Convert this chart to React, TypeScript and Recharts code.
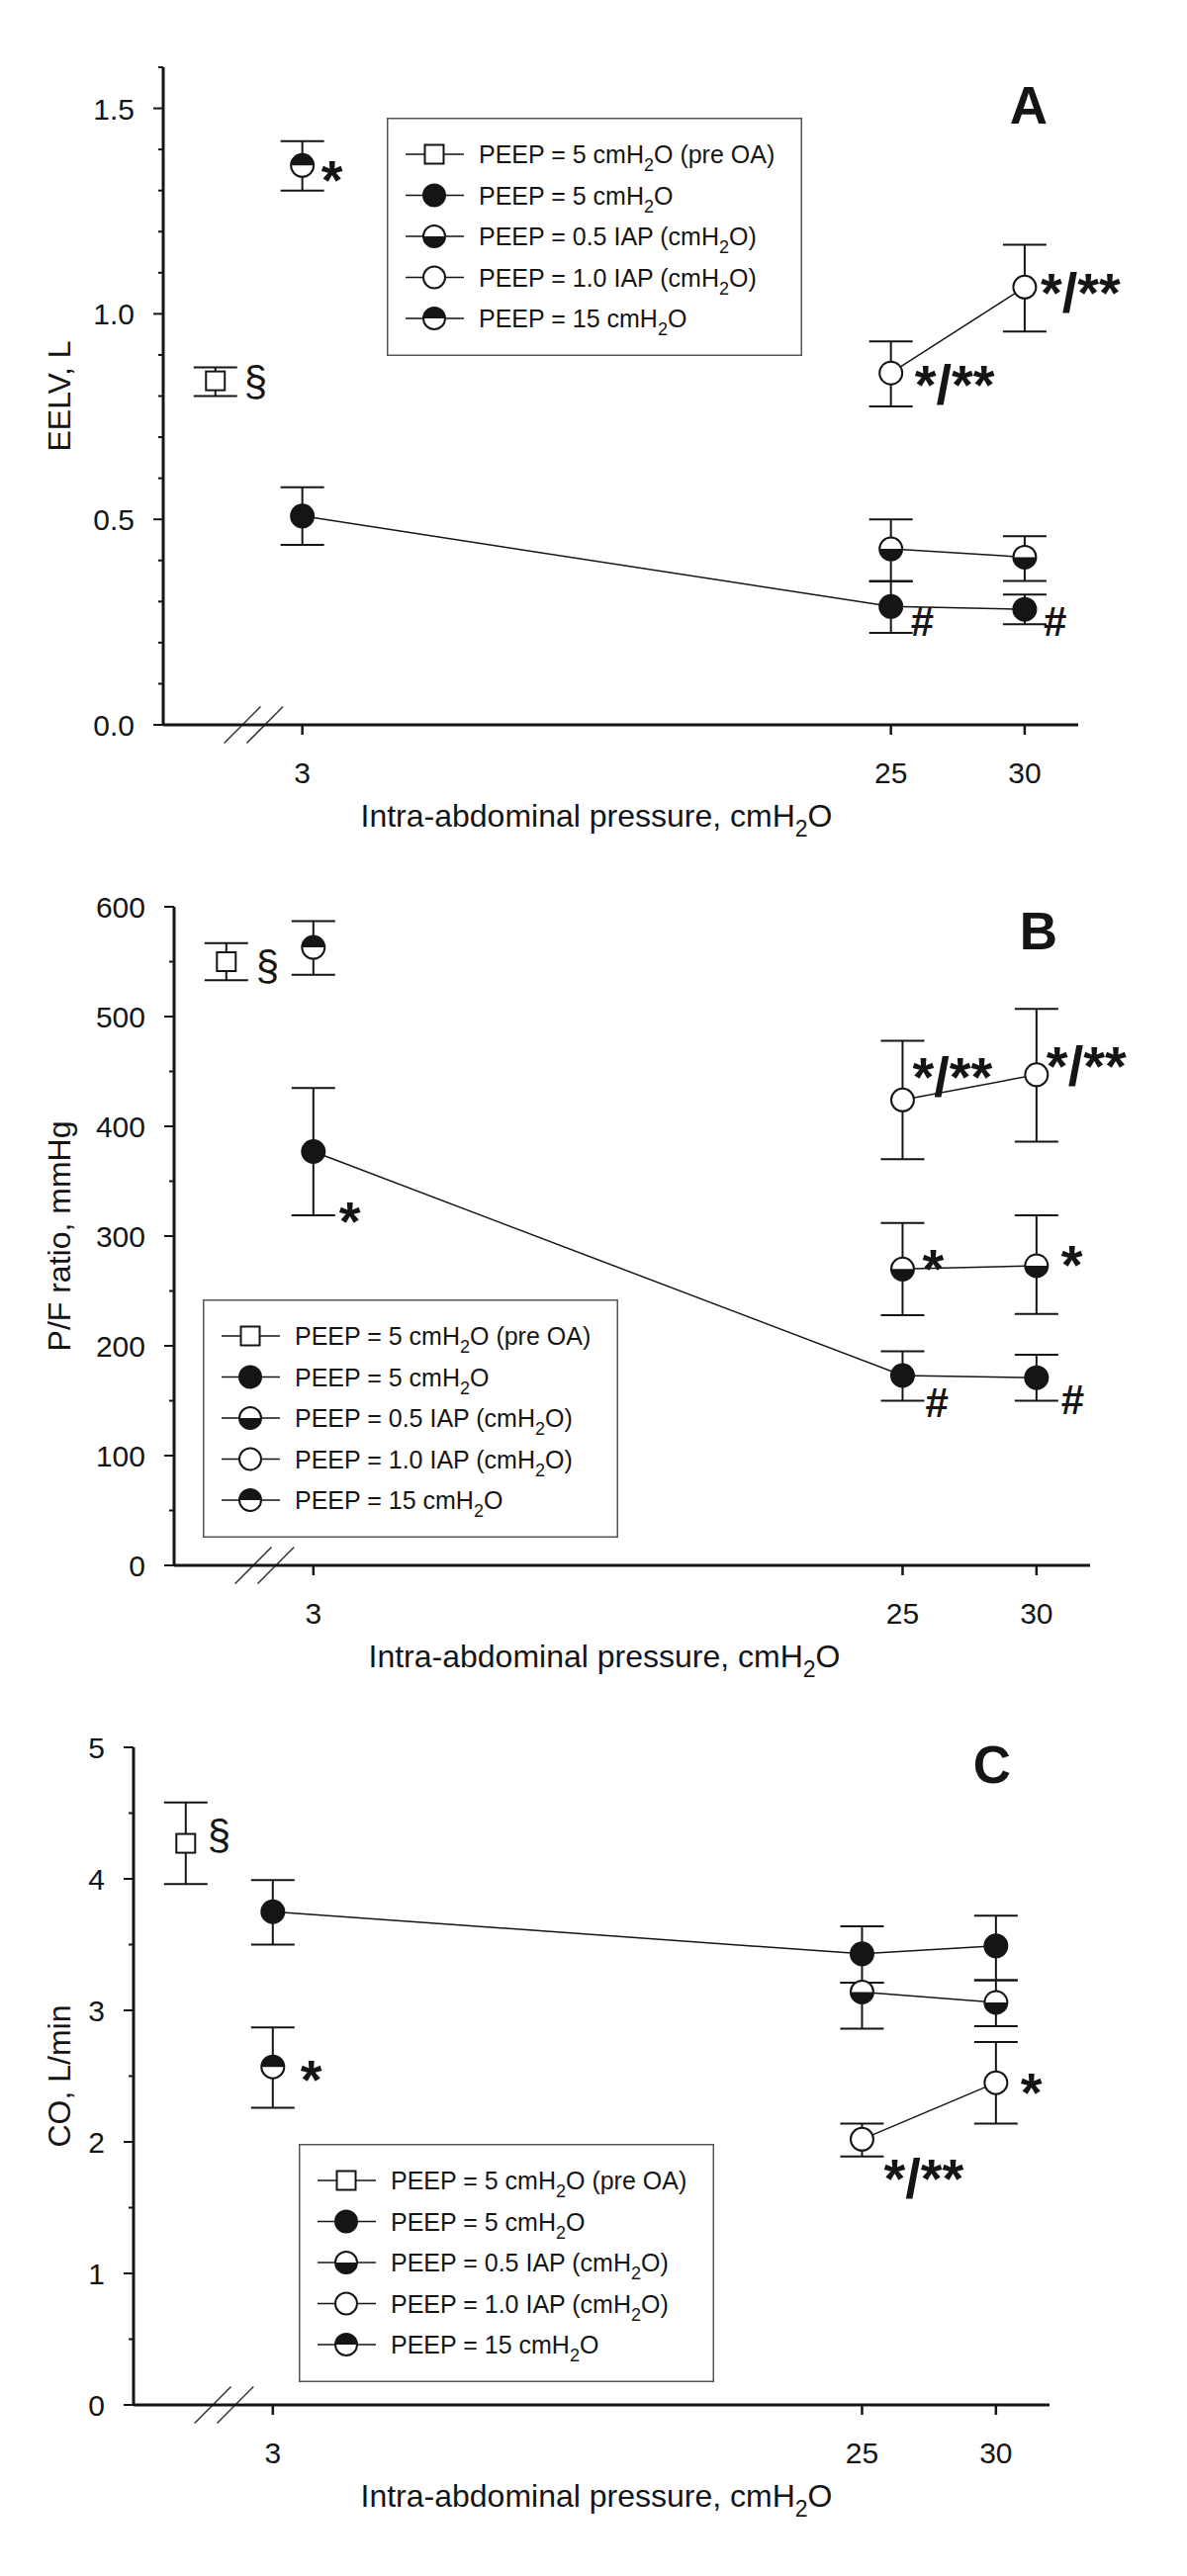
import React from 'react';
import {
  ScatterChart, Scatter, XAxis, YAxis, ErrorBar, Legend, Label, ReferenceLine,
} from 'recharts';

if (typeof document !== 'undefined') document.body.style.margin = '0';

const FONT = '"Liberation Sans", Arial, Helvetica, sans-serif';
const INK = '#151515';

/* ── x positions, cmH2O (pre-OA point sits left of the axis break) ── */
const X_PRE = [-0.25];
const X_BASE = [3];
const X_ALL = [3, 25, 30];
const X_HIGH = [25, 30];
const X_TICKS = [3, 25, 30];
const BREAKS = [0.76, 1.6];

/* ── A: EELV, L — rows are [mean, lower, upper] ── */
const eelvPre = [[0.837, 0.8, 0.87]];
const eelvPeep5 = [[0.508, 0.438, 0.578], [0.288, 0.224, 0.349], [0.281, 0.245, 0.317]];
const eelvHalf = [[0.428, 0.35, 0.5], [0.408, 0.35, 0.459]];
const eelvOpen = [[0.856, 0.775, 0.933], [1.065, 0.957, 1.168]];
const eelvPeep15 = [[1.361, 1.3, 1.42]];
const eelvTicks = [0, 0.1, 0.2, 0.3, 0.4, 0.5, 0.6, 0.7, 0.8, 0.9, 1.0, 1.1, 1.2, 1.3, 1.4, 1.5, 1.6];

/* ── B: P/F ratio, mmHg ── */
const pfPre = [[550, 533, 567]];
const pfPeep5 = [[377, 319, 435], [173, 150, 195], [171, 150, 192]];
const pfHalf = [[270, 228, 312], [273, 229, 319]];
const pfOpen = [[424, 370, 478], [447, 386, 507]];
const pfPeep15 = [[563, 538, 587]];
const pfTicks = [0, 50, 100, 150, 200, 250, 300, 350, 400, 450, 500, 550, 600];

/* ── C: CO, L/min ── */
const coPre = [[4.27, 3.96, 4.58]];
const coPeep5 = [[3.75, 3.5, 3.99], [3.43, 3.21, 3.64], [3.49, 3.23, 3.72]];
const coHalf = [[3.14, 2.86, 3.21], [3.06, 2.88, 3.23]];
const coOpen = [[2.02, 1.89, 2.14], [2.45, 2.14, 2.76]];
const coPeep15 = [[2.57, 2.26, 2.87]];
const coTicks = [0, 0.5, 1, 1.5, 2, 2.5, 3, 3.5, 4, 4.5, 5];

/* ── significance marks, same order as the rows ── */
const eelvNotes = { pre: ['§'], peep5: ['', '#', '#'], half: ['', ''], open: ['*/**', '*/**'], peep15: ['*'] };
const pfNotes = { pre: ['§'], peep5: ['*', '#', '#'], half: ['*', '*'], open: ['*/**', '*/**'], peep15: [''] };
const coNotes = { pre: ['§'], peep5: ['', '', ''], half: ['', ''], open: ['*/**', '*'], peep15: ['*'] };

const LEGEND_LABELS = [
  'PEEP = 5 cmH2O (pre OA)',
  'PEEP = 5 cmH2O',
  'PEEP = 0.5 IAP (cmH2O)',
  'PEEP = 1.0 IAP (cmH2O)',
  'PEEP = 15 cmH2O',
];

const SERIES_KEYS = ['pre', 'peep5', 'half', 'open', 'peep15'];
const SERIES_X: Record<string, number[]> = { pre: X_PRE, peep5: X_ALL, half: X_HIGH, open: X_HIGH, peep15: X_BASE };
const SERIES_KIND: Record<string, string> = { pre: 'square', peep5: 'filled', half: 'halfLow', open: 'open', peep15: 'halfHigh' };

const PANELS = [
  { id: 'A', yTitle: 'EELV, L', yDomain: [0, 1.6], yTicks: eelvTicks, major: 0.5, digits: 1,
    values: { pre: eelvPre, peep5: eelvPeep5, half: eelvHalf, open: eelvOpen, peep15: eelvPeep15 }, notes: eelvNotes },
  { id: 'B', yTitle: 'P/F ratio, mmHg', yDomain: [0, 600], yTicks: pfTicks, major: 100, digits: 0,
    values: { pre: pfPre, peep5: pfPeep5, half: pfHalf, open: pfOpen, peep15: pfPeep15 }, notes: pfNotes },
  { id: 'C', yTitle: 'CO, L/min', yDomain: [0, 5], yTicks: coTicks, major: 1, digits: 0,
    values: { pre: coPre, peep5: coPeep5, half: coHalf, open: coOpen, peep15: coPeep15 }, notes: coNotes },
];

/* ── layout (pixels) ── */
const LAYOUT = [
  { height: 850, top: 68, bottom: 57, left: 165, right: 1090, titleX: 603, letter: [1040, 125], legend: [391, 119] },
  { height: 850, top: 67, bottom: 57, left: 176, right: 1102, titleX: 611, letter: [1050, 110], legend: [205, 464] },
  { height: 905, top: 67, bottom: 113, left: 135, right: 1061, titleX: 603, letter: [1003, 103], legend: [302, 468] },
];
const Y_AXIS_W = 80;
const X_AXIS_H = 60;
const PLOT_H = 665;

// note text: [dx, dy] from marker centre to text start / baseline
const NOTE_POS: Record<string, number[]> = {
  'A:pre:0': [29, 15], 'A:peep5:1': [20, 30], 'A:peep5:2': [19, 27],
  'A:open:0': [24, 31], 'A:open:1': [16, 25], 'A:peep15:0': [19, 34],
  'B:pre:0': [30, 18], 'B:peep5:0': [26, 89], 'B:peep5:1': [23, 42], 'B:peep5:2': [25, 37],
  'B:half:0': [20, 19], 'B:half:1': [25, 18], 'B:open:0': [10, -4], 'B:open:1': [10, 10],
  'C:pre:0': [22, 6], 'C:peep15:0': [28, 32], 'C:open:0': [22, 59], 'C:open:1': [25, 29],
};

const rows = (xs: number[], vals: number[][], notes: string[]) =>
  xs.map((x, i) => ({
    x,
    y: vals[i][0],
    err: [vals[i][0] - vals[i][1], vals[i][2] - vals[i][0]],
    note: notes[i] || '',
    idx: i,
  }));

function Marker({ kind, cx, cy, r = 11.5 }: { kind: string; cx: number; cy: number; r?: number }) {
  if (kind === 'square') {
    return <rect x={cx - 9.5} y={cy - 9.5} width={19} height={19} fill="#fff" stroke={INK} strokeWidth={2} />;
  }
  if (kind === 'filled') return <circle cx={cx} cy={cy} r={r} fill={INK} stroke={INK} strokeWidth={2} />;
  if (kind === 'open') return <circle cx={cx} cy={cy} r={r} fill="#fff" stroke={INK} strokeWidth={2} />;
  const upper = kind === 'halfHigh';
  return (
    <g>
      <circle cx={cx} cy={cy} r={r} fill="#fff" />
      <path d={`M${cx - r},${cy} A${r},${r} 0 0 ${upper ? 1 : 0} ${cx + r},${cy} Z`} fill={INK} />
      <circle cx={cx} cy={cy} r={r} fill="none" stroke={INK} strokeWidth={2} />
    </g>
  );
}

function Note({ text, x, y }: { text: string; x: number; y: number }) {
  const star = text.includes('*');
  return (
    <text
      x={x}
      y={y}
      fontFamily={FONT}
      fontSize={star ? 56 : 42}
      fontWeight={text === '§' ? 400 : 700}
      fill={INK}
    >
      {text}
    </text>
  );
}

const makeShape = (panel: string, key: string) => (props: any) => {
  const { cx, cy, payload } = props;
  const off = NOTE_POS[`${panel}:${key}:${payload.idx}`];
  return (
    <g>
      <Marker kind={SERIES_KIND[key]} cx={cx} cy={cy} />
      {payload.note && off && <Note text={payload.note} x={cx + off[0]} y={cy + off[1]} />}
    </g>
  );
};

// renders "cmH2O" with a subscript 2
function Sub({ text, size }: { text: string; size: number }) {
  const parts = text.split('cmH2O');
  const drop = Math.round(size * 0.3);
  return (
    <>
      {parts.map((part, i) => (
        <React.Fragment key={i}>
          {i > 0 && (
            <>
              <tspan dy={drop} fontSize={Math.round(size * 0.72)}>2</tspan>
              <tspan dy={-drop}>O</tspan>
            </>
          )}
          <tspan>{i < parts.length - 1 ? part + 'cmH' : part}</tspan>
        </React.Fragment>
      ))}
    </>
  );
}

const YTick = ({ x, y, payload, major, digits }: any) => {
  const v = payload.value;
  const isMajor = Math.abs(v / major - Math.round(v / major)) < 1e-6;
  return (
    <g>
      <line x1={x} x2={x - (isMajor ? 10 : 5)} y1={y} y2={y} stroke={INK} strokeWidth={2} />
      {isMajor && (
        <text x={x - 29} y={y + 11} textAnchor="end" fontFamily={FONT} fontSize={30} fill={INK}>
          {v.toFixed(digits)}
        </text>
      )}
    </g>
  );
};

const XTick = ({ x, y, payload }: any) => (
  <g>
    <line x1={x} x2={x} y1={y} y2={y + 10} stroke={INK} strokeWidth={2.5} />
    <text x={x} y={y + 59} textAnchor="middle" fontFamily={FONT} fontSize={30} fill={INK}>
      {payload.value}
    </text>
  </g>
);

function LegendBox() {
  return (
    <svg width={420} height={241} style={{ display: 'block' }}>
      <rect x={0.75} y={0.75} width={418.5} height={239.5} fill="#fff" stroke="#555" strokeWidth={1.5} />
      {LEGEND_LABELS.map((label, i) => {
        const y = 37 + i * 41.5;
        return (
          <g key={label}>
            <line x1={19} x2={78} y1={y} y2={y} stroke={INK} strokeWidth={1.5} />
            <Marker kind={SERIES_KIND[SERIES_KEYS[i]]} cx={48} cy={y} r={11} />
            <text x={93} y={y + 9} fontFamily={FONT} fontSize={25} fill={INK}>
              <Sub text={label} size={25} />
            </text>
          </g>
        );
      })}
    </svg>
  );
}

function Panel({ p, lay }: { p: (typeof PANELS)[number]; lay: (typeof LAYOUT)[number] }) {
  const yHalf = (18.5 * p.yDomain[1]) / PLOT_H;
  return (
    <ScatterChart
      width={1200}
      height={lay.height}
      margin={{ top: lay.top, right: 1200 - lay.right, bottom: lay.bottom, left: lay.left - Y_AXIS_W }}
    >
      <XAxis
        type="number"
        dataKey="x"
        domain={[-2.2, 32]}
        ticks={X_TICKS}
        interval={0}
        tick={(props: any) => <XTick {...props} />}
        tickLine={false}
        tickSize={0}
        tickMargin={0}
        axisLine={{ stroke: INK, strokeWidth: 3 }}
        height={X_AXIS_H}
      >
        <Label
          content={({ viewBox }: any) => (
            <text x={lay.titleX} y={viewBox.y + 103} textAnchor="middle" fontFamily={FONT} fontSize={32} fill={INK}>
              <Sub text="Intra-abdominal pressure, cmH2O" size={32} />
            </text>
          )}
        />
        <Label
          content={() => (
            <text x={lay.letter[0]} y={lay.letter[1]} textAnchor="middle" fontFamily={FONT} fontSize={53} fontWeight={700} fill={INK}>
              {p.id}
            </text>
          )}
        />
      </XAxis>
      <YAxis
        type="number"
        dataKey="y"
        domain={p.yDomain}
        ticks={p.yTicks}
        interval={0}
        tick={(props: any) => <YTick {...props} major={p.major} digits={p.digits} />}
        tickLine={false}
        tickSize={0}
        tickMargin={0}
        axisLine={{ stroke: INK, strokeWidth: 3 }}
        width={Y_AXIS_W}
      >
        <Label
          content={({ viewBox }: any) => {
            const cy = viewBox.y + viewBox.height / 2;
            return (
              <text transform={`translate(71, ${cy}) rotate(-90)`} textAnchor="middle" fontFamily={FONT} fontSize={32} fill={INK}>
                {p.yTitle}
              </text>
            );
          }}
        />
      </YAxis>
      {BREAKS.map((b) => (
        <ReferenceLine
          key={b}
          segment={[{ x: b - 0.68, y: -yHalf }, { x: b + 0.68, y: yHalf }]}
          ifOverflow="visible"
          stroke="#333"
          strokeWidth={1.5}
        />
      ))}
      {SERIES_KEYS.map((key, i) => (
        <Scatter
          key={key}
          name={LEGEND_LABELS[i]}
          data={rows(SERIES_X[key], (p.values as any)[key], (p.notes as any)[key])}
          shape={makeShape(p.id, key)}
          line={{ stroke: INK, strokeWidth: 1.5 }}
          isAnimationActive={false}
        >
          <ErrorBar dataKey="err" direction="y" width={22} stroke={INK} strokeWidth={2} />
        </Scatter>
      ))}
      <Legend
        layout="vertical"
        align="center"
        verticalAlign="middle"
        wrapperStyle={{ left: lay.legend[0], top: lay.legend[1], width: 420, height: 241 }}
        content={() => <LegendBox />}
      />
    </ScatterChart>
  );
}

export default function App() {
  return (
    <div style={{ width: 1200, background: '#fff', fontFamily: FONT }}>
      {PANELS.map((p, i) => (
        <Panel key={p.id} p={p} lay={LAYOUT[i]} />
      ))}
    </div>
  );
}
